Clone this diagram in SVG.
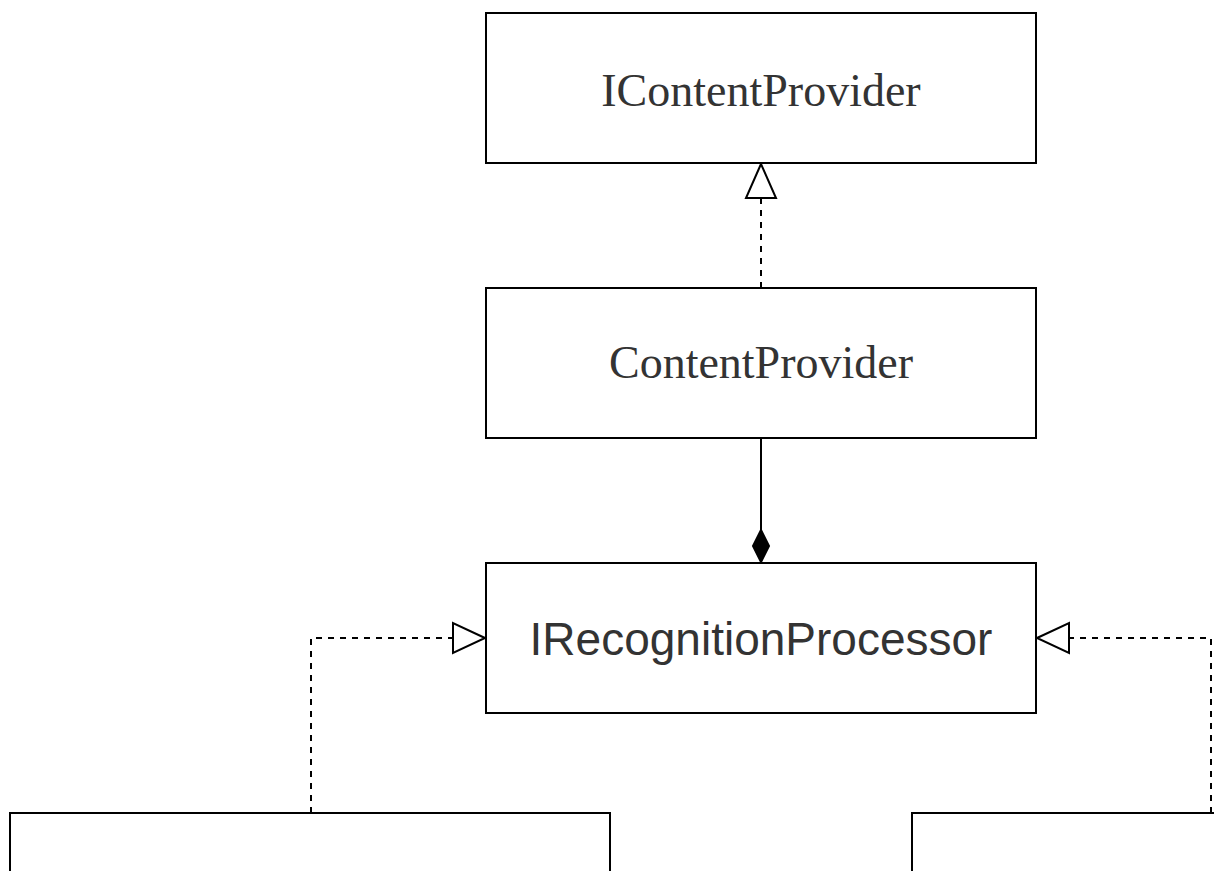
<svg xmlns="http://www.w3.org/2000/svg" width="1214" height="871" viewBox="0 0 1214 871">
  <style>
    .box { fill: #ffffff; stroke: #000000; stroke-width: 2; }
    .serif { font-family: "Liberation Serif", "Times New Roman", serif; font-size: 46px; fill: #333333; text-anchor: middle; }
    .sans { font-family: "Liberation Sans", Arial, sans-serif; font-size: 46px; fill: #333333; text-anchor: middle; }
    .dash { fill: none; stroke: #000000; stroke-width: 2; stroke-dasharray: 6 6; }
    .solid { fill: none; stroke: #000000; stroke-width: 2; }
    .hollow { fill: #ffffff; stroke: #000000; stroke-width: 2; }
    .filled { fill: #000000; stroke: #000000; stroke-width: 2; }
  </style>
  <rect width="1214" height="871" fill="#ffffff"/>

  <g id="connectors">
    <!-- ContentProvider realizes IContentProvider -->
    <line class="dash" x1="761" y1="288" x2="761" y2="198"/>
    <polygon class="hollow" points="761,164 746,198 776,198"/>
    <!-- ContentProvider composes IRecognitionProcessor -->
    <line class="solid" x1="761" y1="438" x2="761" y2="532"/>
    <polygon class="filled" points="761,530 769,546 761,562 753,546"/>
    <!-- left implementation -->
    <polyline class="dash" points="311,813 311,638 453,638"/>
    <polygon class="hollow" points="485,638 453,623 453,653"/>
    <!-- right implementation -->
    <polyline class="dash" points="1211,813 1211,638 1070,638"/>
    <polygon class="hollow" points="1037,638 1069,623 1069,653"/>
  </g>

  <g id="node-icontentprovider">
    <rect class="box" x="486" y="13" width="550" height="150"/>
    <text class="serif" x="761" y="106">IContentProvider</text>
  </g>

  <g id="node-contentprovider">
    <rect class="box" x="486" y="288" width="550" height="150"/>
    <text class="serif" x="761" y="378">ContentProvider</text>
  </g>

  <g id="node-irecognitionprocessor">
    <rect class="box" x="486" y="563" width="550" height="150"/>
    <text class="sans" x="761" y="655">IRecognitionProcessor</text>
  </g>

  <g id="node-left">
    <rect class="box" x="10" y="813" width="600" height="100"/>
  </g>

  <g id="node-right">
    <rect class="box" x="912" y="813" width="400" height="100"/>
  </g>
</svg>
